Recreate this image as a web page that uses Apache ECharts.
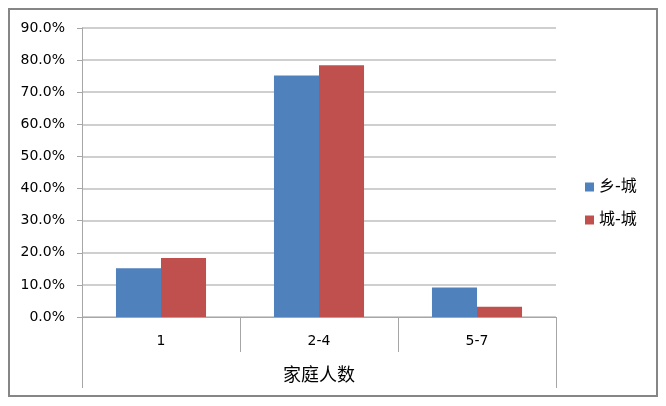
<!DOCTYPE html>
<html>
<head>
<meta charset="utf-8">
<script src="https://cdn.jsdelivr.net/npm/echarts@6/dist/echarts.min.js"></script>
<style>
html, body { margin: 0; padding: 0; background: #fff; }
#main { width: 666px; height: 406px; }
</style>
</head>
<body>
<div id="main"></div>
<script>
var myChart = echarts.init(document.getElementById("main"));

// 数据
var categories = ['1', '2-4', '5-7'];
var seriesNames = ['乡-城', '城-城'];
var ruralUrban = [0.152, 0.752, 0.092];
var urbanUrban = [0.184, 0.784, 0.032];
var axisName = '家庭人数';

var font = '"DejaVu Sans", "Noto Sans CJK SC", sans-serif';

var option = {
    animation: false,
    color: ['#4F81BD', '#C0504D'],
    grid: {
        left: 82,
        right: 110,
        top: 28,
        bottom: 89
    },
    legend: {
        orient: 'vertical',
        left: 580,
        top: 174,
        icon: 'rect',
        itemWidth: 9,
        itemHeight: 9,
        itemGap: 17,
        data: seriesNames,
        textStyle: {
            fontFamily: font,
            fontSize: 16,
            color: '#000'
        }
    },
    xAxis: [{
        type: 'category',
        data: categories,
        name: axisName,
        nameLocation: 'middle',
        nameGap: 50,
        nameTextStyle: {
            fontFamily: font,
            fontSize: 18,
            color: '#000'
        },
        axisLine: {
            show: true,
            lineStyle: { color: '#A6A6A6' }
        },
        axisTick: {
            show: true,
            interval: 0,
            length: 35,
            lineStyle: { color: '#A6A6A6' }
        },
        axisLabel: {
            margin: 17,
            fontFamily: font,
            fontSize: 14,
            color: '#000'
        }
    }, {
        // 外侧的分隔竖线
        type: 'category',
        data: [axisName],
        position: 'bottom',
        show: true,
        axisLine: { show: false },
        axisTick: {
            show: true,
            length: 71,
            lineStyle: { color: '#A6A6A6' }
        },
        axisLabel: { show: false }
    }],
    yAxis: {
        type: 'value',
        min: 0,
        max: 0.9,
        interval: 0.1,
        axisLine: {
            show: true,
            lineStyle: { color: '#A6A6A6' }
        },
        axisTick: {
            show: true,
            length: 5,
            lineStyle: { color: '#A6A6A6' }
        },
        splitLine: {
            lineStyle: { color: '#BFBFBF', width: 1.5 }
        },
        axisLabel: {
            margin: 17,
            fontFamily: font,
            fontSize: 14,
            color: '#000',
            formatter: function (value) {
                return (value * 100).toFixed(1) + '%';
            }
        }
    },
    series: [{
        name: seriesNames[0],
        type: 'bar',
        barGap: '0%',
        barCategoryGap: '43%',
        data: ruralUrban
    }, {
        name: seriesNames[1],
        type: 'bar',
        barGap: '0%',
        barCategoryGap: '43%',
        data: urbanUrban
    }],
    graphic: [{
        type: 'rect',
        shape: { x: 9, y: 9, width: 648, height: 387 },
        style: { fill: 'none', stroke: '#868686', lineWidth: 2 },
        silent: true
    }]
};

myChart.setOption(option);
</script>
</body>
</html>
